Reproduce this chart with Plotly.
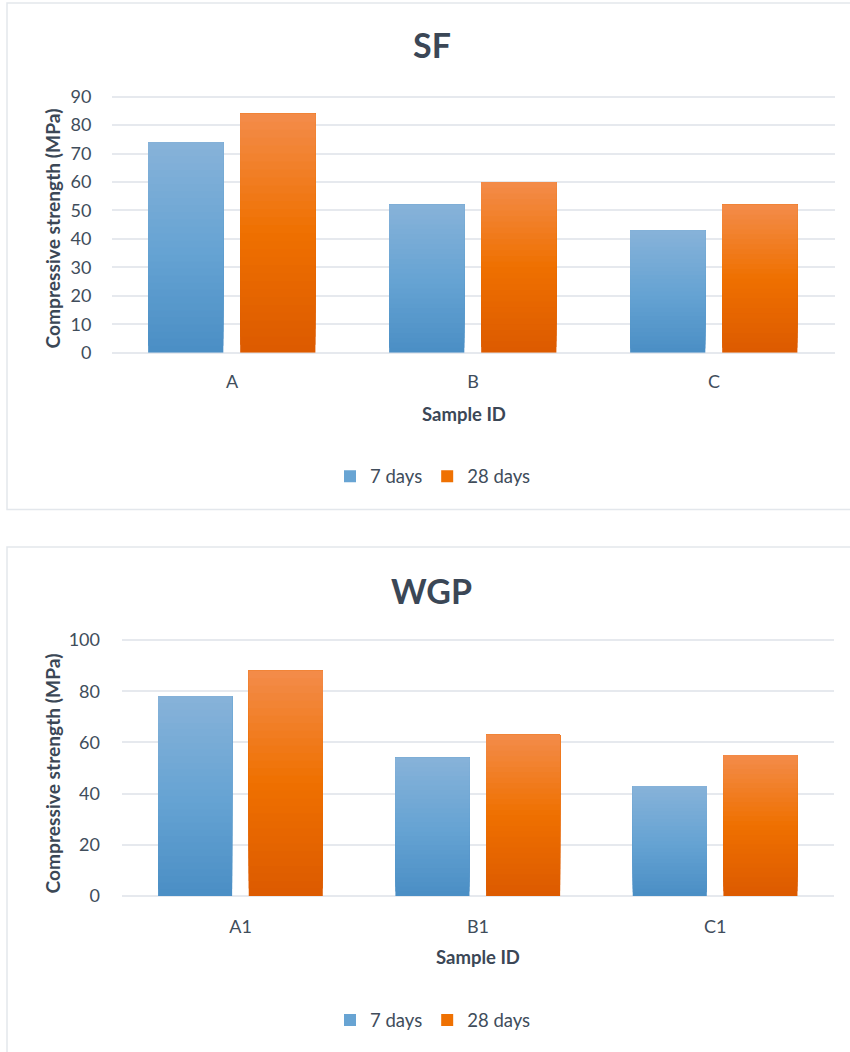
import plotly.graph_objects as go

# Compressive strength (MPa) at 7 and 28 days for two mixes
sf_samples = ["A", "B", "C"]
sf_7_days = [74, 52, 43]
sf_28_days = [84, 60, 52]

wgp_samples = ["A1", "B1", "C1"]
wgp_7_days = [78, 54, 43]
wgp_28_days = [88, 63, 55]

series_names = ["7 days", "28 days"]
sf_ticks = list(range(0, 91, 10))
wgp_ticks = list(range(0, 101, 20))

W, H = 850, 1052
FONT = "Lato"
TEXT = "#404d5b"
TITLE = "#3b4756"
GRID = "#e6e9ee"

# vertical colour ramps (bottom -> middle -> top) for each series
RAMPS = [
    [(74, 142, 197), (103, 164, 211), (135, 178, 217)],
    [(220, 90, 0), (239, 112, 0), (243, 140, 74)],
]
SEGMENTS = 30
BAR_WIDTH = 0.312
OFFSETS = [-0.348, 0.034]


def ramp_color(stops, f):
    if f <= 0.5:
        a, b, t = stops[0], stops[1], f / 0.5
    else:
        a, b, t = stops[1], stops[2], (f - 0.5) / 0.5
    c = [round(a[i] + (b[i] - a[i]) * t) for i in range(3)]
    return f"rgb({c[0]},{c[1]},{c[2]})"


def px(x):
    return x / W


def py(y):
    return 1 - y / H


fig = go.Figure()


def add_chart(samples, values_by_series, xa, ya, legend_name):
    for s, values in enumerate(values_by_series):
        for k in range(SEGMENTS):
            f = k / SEGMENTS
            # each layer spans from its own base up to the bar top; later layers
            # cover the upper part, leaving a smooth vertical gradient
            fig.add_trace(go.Bar(
                x=samples,
                y=[v * (1 - f) for v in values],
                base=[v * f for v in values],
                width=BAR_WIDTH,
                offset=OFFSETS[s],
                marker=dict(color=ramp_color(RAMPS[s], (k + 0.5) / SEGMENTS),
                            line=dict(width=0)),
                name=series_names[s],
                legendgroup=f"{legend_name}-{s}",
                showlegend=(k == SEGMENTS // 2),
                legend=legend_name,
                xaxis=xa,
                yaxis=ya,
                hoverinfo="skip",
            ))


add_chart(sf_samples, [sf_7_days, sf_28_days], "x", "y", "legend")
add_chart(wgp_samples, [wgp_7_days, wgp_28_days], "x2", "y2", "legend2")

# pixel geometry of the two plotting areas
top_zero, top_unit = 352.7, 256.0 / 90
bot_zero, bot_unit = 896.0, 256.0 / 100
top_max, bot_max = 90.6, 100.7

axis_common = dict(
    tickfont=dict(family=FONT, size=18, color=TEXT),
    showline=False,
    fixedrange=True,
    automargin=False,
)

legend_common = dict(
    orientation="h",
    xanchor="center", yanchor="middle",
    font=dict(family=FONT, size=18.5, color=TEXT),
    bgcolor="rgba(0,0,0,0)",
    itemclick=False, itemdoubleclick=False,
    tracegroupgap=0,
)

fig.update_layout(
    width=W,
    height=H,
    margin=dict(l=0, r=0, t=0, b=0, autoexpand=False),
    paper_bgcolor="white",
    plot_bgcolor="white",
    barmode="overlay",
    font=dict(family=FONT, color=TEXT),
    xaxis=dict(
        domain=[px(111.5), px(834.5)],
        anchor="y",
        type="category",
        showgrid=False,
        zeroline=False,
        ticks="",
        ticklabelstandoff=16,
        **axis_common,
    ),
    yaxis=dict(
        domain=[py(top_zero), py(top_zero - top_max * top_unit)],
        anchor="x",
        range=[0, top_max],
        tickvals=sf_ticks,
        showgrid=True,
        gridcolor=GRID,
        gridwidth=1.5,
        zeroline=True,
        zerolinecolor=GRID,
        zerolinewidth=2,
        ticks="",
        ticklabelstandoff=19,
        **axis_common,
    ),
    xaxis2=dict(
        domain=[px(122), px(834)],
        anchor="y2",
        type="category",
        showgrid=False,
        zeroline=False,
        ticks="",
        ticklabelstandoff=18,
        **axis_common,
    ),
    yaxis2=dict(
        domain=[py(bot_zero), py(bot_zero - bot_max * bot_unit)],
        anchor="x2",
        range=[0, bot_max],
        tickvals=wgp_ticks,
        showgrid=True,
        gridcolor=GRID,
        gridwidth=1.5,
        zeroline=True,
        zerolinecolor=GRID,
        zerolinewidth=2,
        ticks="",
        ticklabelstandoff=21,
        **axis_common,
    ),
    legend=dict(x=px(433), y=py(476.7), **legend_common),
    legend2=dict(x=px(433), y=py(1020.5), **legend_common),
)

# chart frames
frame = dict(type="rect", xref="paper", yref="paper",
             line=dict(color="#e3e7ec", width=1.5), fillcolor="rgba(0,0,0,0)",
             layer="below")
fig.add_shape(x0=px(7), x1=px(870), y0=py(509.5), y1=py(3), **frame)
fig.add_shape(x0=px(7), x1=px(870), y0=py(1080), y1=py(547), **frame)


def label(text, x, y, size, color, bold=False, angle=0):
    fig.add_annotation(
        text=text, x=px(x), y=py(y), xref="paper", yref="paper",
        showarrow=False, textangle=angle,
        xanchor="center", yanchor="middle",
        font=dict(family=FONT, size=size, color=color,
                  weight="bold" if bold else "normal"),
    )


label("SF", 432, 45, 34, TITLE, bold=True)
label("WGP", 431, 590, 34, TITLE, bold=True)
label("Compressive strength (MPa)", 51.5, 229, 19.2, TITLE, bold=True, angle=-90)
label("Compressive strength (MPa)", 51.5, 774, 19.2, TITLE, bold=True, angle=-90)
label("Sample ID", 464, 414, 18.5, TITLE, bold=True)
label("Sample ID", 478, 957, 18.5, TITLE, bold=True)

fig.write_html("out.html")
